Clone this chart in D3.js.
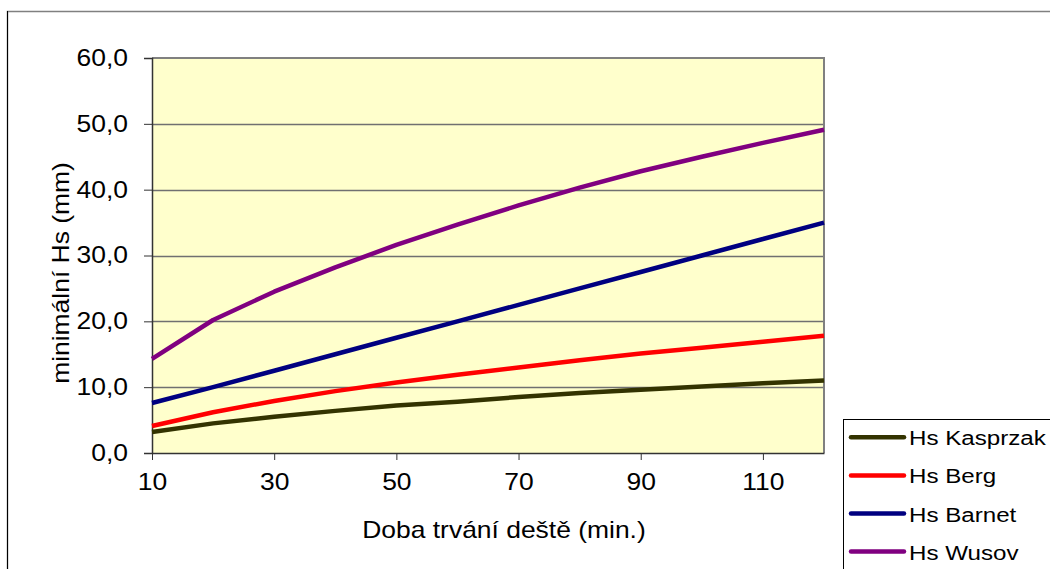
<!DOCTYPE html>
<html><head><meta charset="utf-8">
<script src="https://cdn.jsdelivr.net/npm/d3@7"></script>
<style>body{margin:0;background:#fff}svg{display:block;font-family:"Liberation Sans",Arial,sans-serif}</style>
</head><body>
<svg id="c" width="1050" height="569"></svg>
<script>
const durations = [10,20,30,40,50,60,70,80,90,100,110,120];
const xTickLabels = [10,30,50,70,90,110];
const yTicks = [0,10,20,30,40,50,60];
const seriesNames = ["Hs Kasprzak","Hs Berg","Hs Barnet","Hs Wusov"];
const seriesColors = ["#333300","#FF0000","#000080","#800080"];
const kasprzak = [3.2,4.5,5.5,6.4,7.2,7.8,8.5,9.1,9.6,10.1,10.6,11.0];
const berg     = [4.1,6.2,7.9,9.4,10.7,11.9,13.0,14.1,15.1,16.0,16.9,17.8];
const barnet   = [7.6,10.0,12.5,15.0,17.5,20.0,22.5,25.0,27.5,30.0,32.5,35.0];
const wusov    = [14.3,20.2,24.5,28.2,31.6,34.7,37.6,40.3,42.8,45.0,47.1,49.1];
const seriesValues = [kasprzak,berg,barnet,wusov];

const SX = 1.15; // horizontal font stretch
const svg = d3.select("#c");
const L=152, R=824, T=58, B=453;

// outer chart border
svg.append("rect").attr("x",7.5).attr("y",11.5).attr("width",1100).attr("height",700)
  .attr("fill","#fff").attr("stroke","#808080").attr("stroke-width",1.5);
svg.append("line").attr("x1",7.5).attr("x2",7.5).attr("y1",11).attr("y2",569).attr("stroke","#000");

const x = d3.scalePoint().domain(durations).range([L,R]);
const y = d3.scaleLinear().domain([0,60]).range([B,T]);

svg.append("rect").attr("x",L).attr("y",T).attr("width",R-L).attr("height",B-T).attr("fill","#FFFFCC");

// grid
svg.append("g").selectAll("line").data(yTicks.filter(d=>d>0&&d<60)).join("line")
  .attr("x1",L).attr("x2",R).attr("y1",d=>Math.round(y(d))+0.5).attr("y2",d=>Math.round(y(d))+0.5)
  .attr("stroke","#707070").attr("stroke-width",1.3);

// plot border top/right
svg.append("path").attr("d",`M${L},${T}H${R}V${B}`).attr("fill","none").attr("stroke","#808080").attr("stroke-width",2);

function stretch(sel){
  sel.each(function(){
    const t=d3.select(this);
    const cx=+t.attr("x")||0;
    t.attr("x",cx/SX).attr("transform",`scale(${SX},1)`);
  });
}

// axes
const yAxis = d3.axisLeft(y).tickValues(yTicks).tickSize(8).tickPadding(16)
  .tickFormat(d=>d3.format(".1f")(d).replace(".",","));
const gy = svg.append("g").attr("transform",`translate(${L},0)`).call(yAxis);
gy.select(".domain").attr("stroke","#333").attr("stroke-width",1.5);
gy.selectAll(".tick line").attr("stroke","#333");
gy.selectAll("text").attr("font-size",23).attr("fill","#000").attr("font-family","Liberation Sans, Arial, sans-serif").call(stretch);

const xAxis = d3.axisBottom(x).tickValues(xTickLabels).tickSize(7).tickPadding(14).tickSizeOuter(0);
const gx = svg.append("g").attr("transform",`translate(0,${B})`).call(xAxis);
gx.select(".domain").attr("stroke","#333").attr("stroke-width",1.5);
gx.selectAll(".tick line").attr("stroke","#333");
gx.selectAll("text").attr("font-size",23).attr("fill","#000").attr("font-family","Liberation Sans, Arial, sans-serif").call(stretch);

// lines
const line = d3.line().x((d,i)=>x(durations[i])).y(d=>y(d));
seriesValues.forEach((vals,i)=>{
  svg.append("path").datum(vals).attr("d",line).attr("fill","none")
    .attr("stroke",seriesColors[i]).attr("stroke-width",4.5).attr("stroke-linejoin","round");
});

// titles
svg.append("text").attr("transform",`translate(504,538) scale(${SX},1)`).attr("text-anchor","middle").attr("font-size",23)
  .text("Doba trvání deště (min.)");
svg.append("text").attr("transform",`translate(69,273) rotate(-90) scale(${SX},1)`).attr("text-anchor","middle").attr("font-size",23)
  .text("minimální Hs (mm)");

// legend
svg.append("rect").attr("x",843.5).attr("y",419.5).attr("width",300).attr("height",300)
  .attr("fill","#fff").attr("stroke","#000").attr("stroke-width",1);
const lg = svg.append("g").selectAll("g").data(seriesNames).join("g")
  .attr("transform",(d,i)=>`translate(0,${437.3+i*38.1})`);
lg.append("line").attr("x1",851).attr("x2",904).attr("stroke",(d,i)=>seriesColors[i]).attr("stroke-width",4.5).attr("stroke-linecap","round");
lg.append("text").attr("transform",`translate(909,8) scale(${SX},1)`).attr("font-size",21).text(d=>d);
</script>
</body></html>
